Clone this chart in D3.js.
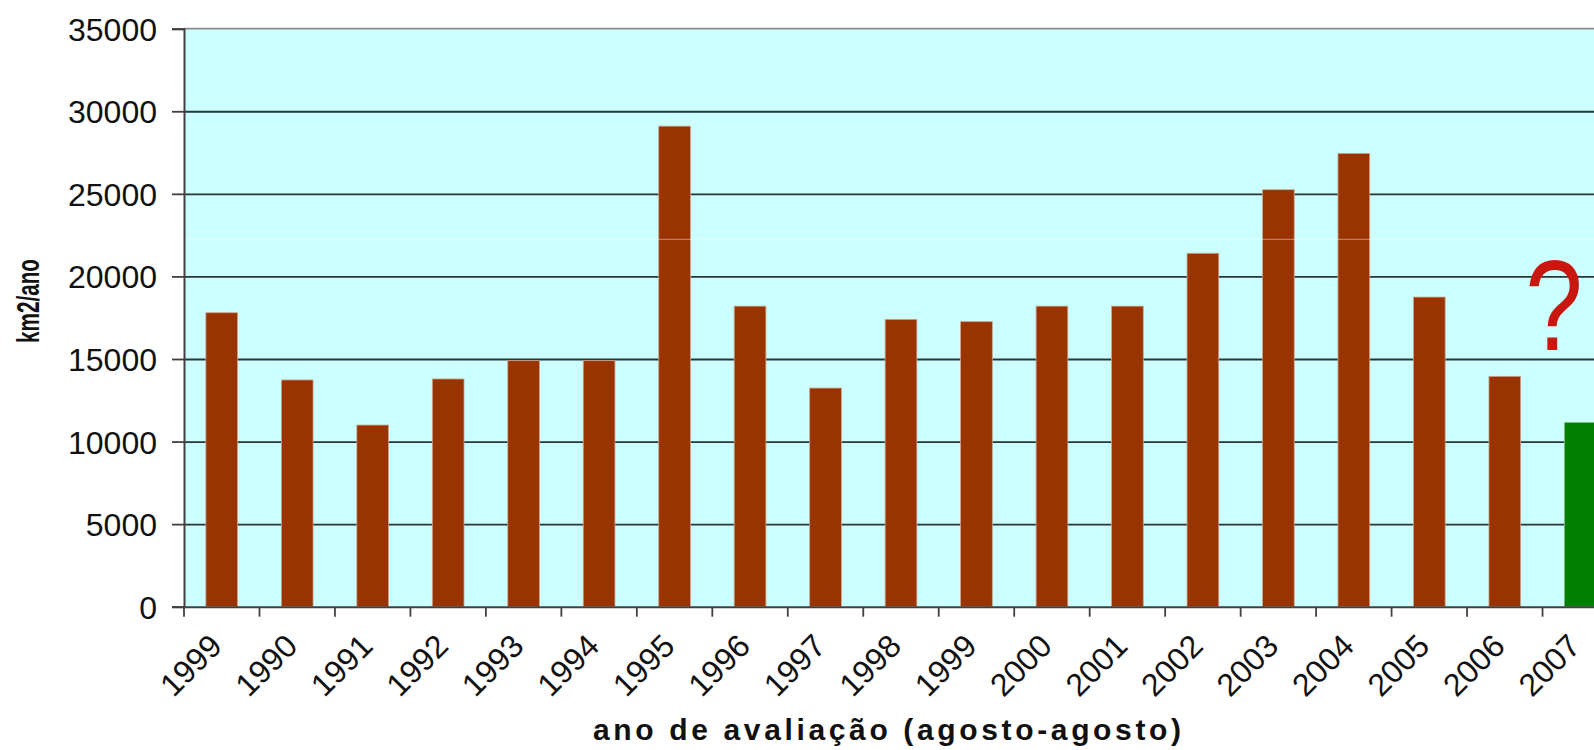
<!DOCTYPE html>
<html>
<head>
<meta charset="utf-8">
<script src="https://cdn.jsdelivr.net/npm/d3@7"></script>
<style>
  html, body { margin: 0; padding: 0; background: #ffffff; }
  svg { display: block; }
  text { font-family: "Liberation Sans", Arial, sans-serif; fill: #111; }
</style>
</head>
<body>
<svg id="chart" width="1594" height="750"></svg>
<script>
// Annual deforestation (km2/ano), evaluation year August–August
const yearLabels = ["1999", "1990", "1991", "1992", "1993", "1994", "1995", "1996", "1997",
                    "1998", "1999", "2000", "2001", "2002", "2003", "2004", "2005", "2006", "2007"];
const areaValues = [17800, 13730, 11000, 13790, 14900, 14900, 29100, 18200, 13240,
                    17400, 17260, 18200, 18200, 21400, 25250, 27450, 18750, 13950, 11150];
// last year is a preliminary estimate, drawn in green
const estimateFlags = [false, false, false, false, false, false, false, false, false,
                       false, false, false, false, false, false, false, false, false, true];
const yTickValues = [0, 5000, 10000, 15000, 20000, 25000, 30000, 35000];
const yTitle = "km2/ano";
const xTitle = "ano de avaliação (agosto-agosto)";

const svg = d3.select("#chart");

const plot = { left: 184, right: 1618, top: 28.7, bottom: 606.7 };
const idx = d3.range(yearLabels.length);

// category slots (ticks and labels) and bars inside them
const slot = d3.scaleBand().domain(idx).range([plot.left, plot.right]).padding(0);
const x = d3.scaleBand().domain(idx).range([plot.left, plot.right])
  .paddingInner(0.58).paddingOuter(0.29);
const y = d3.scaleLinear().domain([0, 35000]).range([plot.bottom, plot.top]);

// plot background
svg.append("rect")
  .attr("x", plot.left).attr("y", plot.top)
  .attr("width", plot.right - plot.left).attr("height", plot.bottom - plot.top)
  .attr("fill", "#ccffff");

// horizontal gridlines
const grid = svg.append("g")
  .attr("transform", `translate(${plot.left},0)`)
  .call(d3.axisLeft(y).tickValues(yTickValues.filter(v => v > 0 && v < 35000))
    .tickSize(-(plot.right - plot.left)).tickFormat(""));
grid.select(".domain").remove();
grid.selectAll("line").attr("stroke", "#2a3535").attr("stroke-width", 1.8);

// top border of plot area
svg.append("line")
  .attr("x1", plot.left).attr("x2", plot.right)
  .attr("y1", y(35000)).attr("y2", y(35000))
  .attr("stroke", "#8a8a8a").attr("stroke-width", 1.8);

// bars
svg.append("g").selectAll("rect")
  .data(idx)
  .join("rect")
  .attr("x", i => x(i))
  .attr("width", x.bandwidth())
  .attr("y", i => y(areaValues[i]))
  .attr("height", i => y(0) - y(areaValues[i]))
  .attr("fill", i => estimateFlags[i] ? "#008000" : "#993300")
  .attr("stroke", i => estimateFlags[i] ? "#7fbf7f" : "#c9a48f")
  .attr("stroke-width", 0.8);

// faint light seam across the plot
svg.append("line")
  .attr("x1", plot.left).attr("x2", plot.right)
  .attr("y1", 239.3).attr("y2", 239.3)
  .attr("stroke", "#ffffff").attr("stroke-opacity", 0.45).attr("stroke-width", 1);

// y axis with tick labels
const yAxis = svg.append("g")
  .attr("transform", `translate(${plot.left},0)`)
  .call(d3.axisLeft(y).tickValues(yTickValues).tickSize(12).tickPadding(15)
    .tickFormat(d => String(d)));
yAxis.select(".domain").attr("stroke", "#404040").attr("stroke-width", 2);
yAxis.selectAll(".tick line").attr("stroke", "#404040").attr("stroke-width", 1.8);
yAxis.selectAll(".tick text")
  .attr("font-family", "'Liberation Sans', Arial, sans-serif")
  .attr("font-size", 32).attr("fill", "#111").attr("dy", "0.36em");

// x axis line and ticks between categories
const xAxis = svg.append("g")
  .attr("transform", `translate(0,${plot.bottom})`)
  .call(d3.axisBottom(slot).tickSize(10).tickFormat("").tickSizeOuter(0));
xAxis.select(".domain").attr("stroke", "#404040").attr("stroke-width", 2);
xAxis.selectAll(".tick line")
  .attr("transform", `translate(${-slot.step() / 2},0)`)
  .attr("stroke", "#404040").attr("stroke-width", 1.8);

// rotated category labels
svg.append("g").selectAll("text")
  .data(idx)
  .join("text")
  .attr("transform", i => `translate(${slot(i) + slot.step() / 2 + 2},648) rotate(-45)`)
  .attr("text-anchor", "end")
  .attr("font-size", 32)
  .text(i => yearLabels[i]);

// axis titles
svg.append("text")
  .attr("transform", "translate(39,301) rotate(-90)")
  .attr("text-anchor", "middle")
  .attr("font-weight", "bold")
  .attr("font-size", 31)
  .attr("textLength", 84)
  .attr("lengthAdjust", "spacingAndGlyphs")
  .text(yTitle);

svg.append("text")
  .attr("x", 593).attr("y", 740)
  .attr("font-weight", "bold")
  .attr("font-size", 30)
  .attr("textLength", 588)
  .attr("lengthAdjust", "spacing")
  .text(xTitle);

// question mark over the preliminary year
svg.append("text")
  .attr("transform", "translate(1554,350) scale(0.84,1.04)")
  .attr("text-anchor", "middle")
  .attr("font-family", "'Noto Sans', 'Open Sans', sans-serif")
  .attr("font-size", 123)
  .style("fill", "#c8170f")
  .text("?");
</script>
</body>
</html>
